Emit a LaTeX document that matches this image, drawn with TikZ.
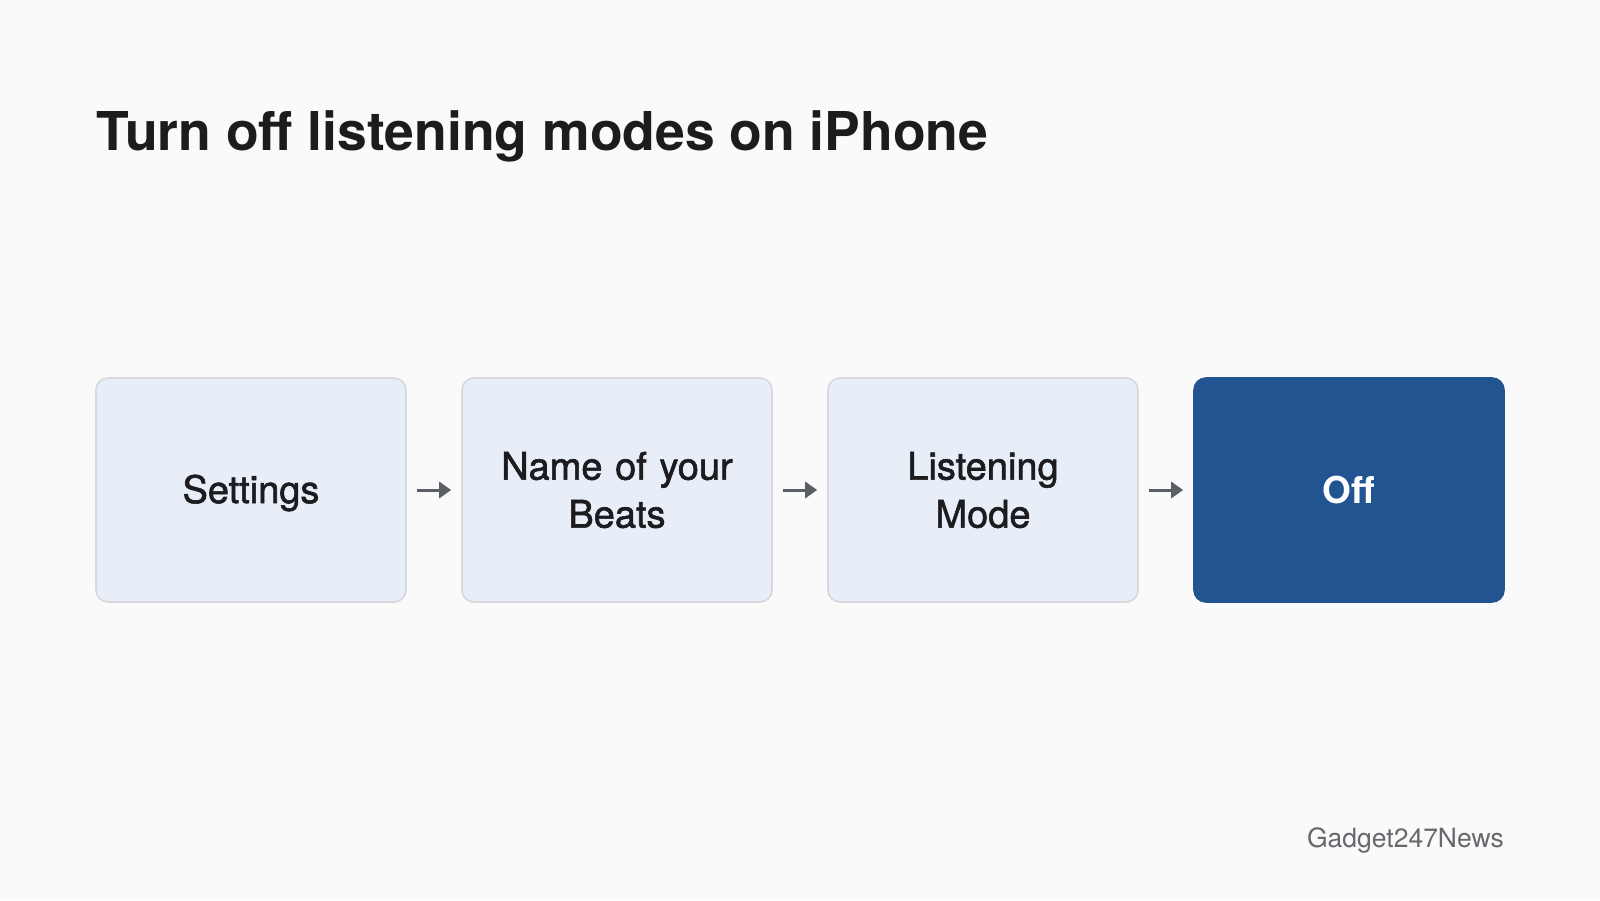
\documentclass[tikz,border=0pt]{standalone}
\usepackage{fontspec}
\setmainfont{TeX Gyre Heros}
\newfontfamily\medfont[FakeBold=1.6]{TeX Gyre Heros}
\usetikzlibrary{positioning,arrows.meta}
\definecolor{bgcol}{HTML}{FAFAFA}
\definecolor{boxfill}{HTML}{E8EEF8}
\definecolor{boxline}{HTML}{D6D8DC}
\definecolor{offblue}{HTML}{225492}
\definecolor{inkcol}{HTML}{1C1C1F}
\definecolor{arrowcol}{HTML}{5A5E66}
\definecolor{markcol}{HTML}{67686D}

\begin{document}
\begin{tikzpicture}[x=1pt,y=-1pt,
  stepbox/.style={draw=boxline,line width=1.6pt,fill=boxfill,rounded corners=12pt,
    minimum width=310pt,minimum height=224pt,text width=296pt,align=center,
    text=inkcol,font=\medfont\fontsize{38}{48}\selectfont},
  lastbox/.style={stepbox,draw=offblue,fill=offblue,text=white,
    font=\bfseries\fontsize{37}{48}\selectfont},
  flowarrow/.style={-{Triangle[length=12pt,width=16pt]},line width=3pt,arrowcol,
    shorten <=10pt,shorten >=10pt}]
\fill[bgcol] (0,0) rectangle (1600,900);
\node[anchor=base west,text=inkcol,font=\bfseries\fontsize{53.5}{60}\selectfont,inner sep=0pt]
  (title) at (96,150) {Turn off listening modes on iPhone};
\node[stepbox] (settings) at (251,490) {\raisebox{-3pt}[\height][\depth]{Settings}};
\node[stepbox,right=54.4pt of settings] (beats) {Name of your\\Beats};
\node[stepbox,right=54.4pt of beats] (listen) {Listening\\Mode};
\node[lastbox,right=54.4pt of listen] (off) {Off};
\draw[flowarrow] (settings) -- (beats);
\draw[flowarrow] (beats) -- (listen);
\draw[flowarrow] (listen) -- (off);
\node[anchor=base east,text=markcol,font=\fontsize{26.5}{30}\selectfont,inner sep=0pt]
  (mark) at (1504,847) {Gadget247News};
\end{tikzpicture}
\end{document}
